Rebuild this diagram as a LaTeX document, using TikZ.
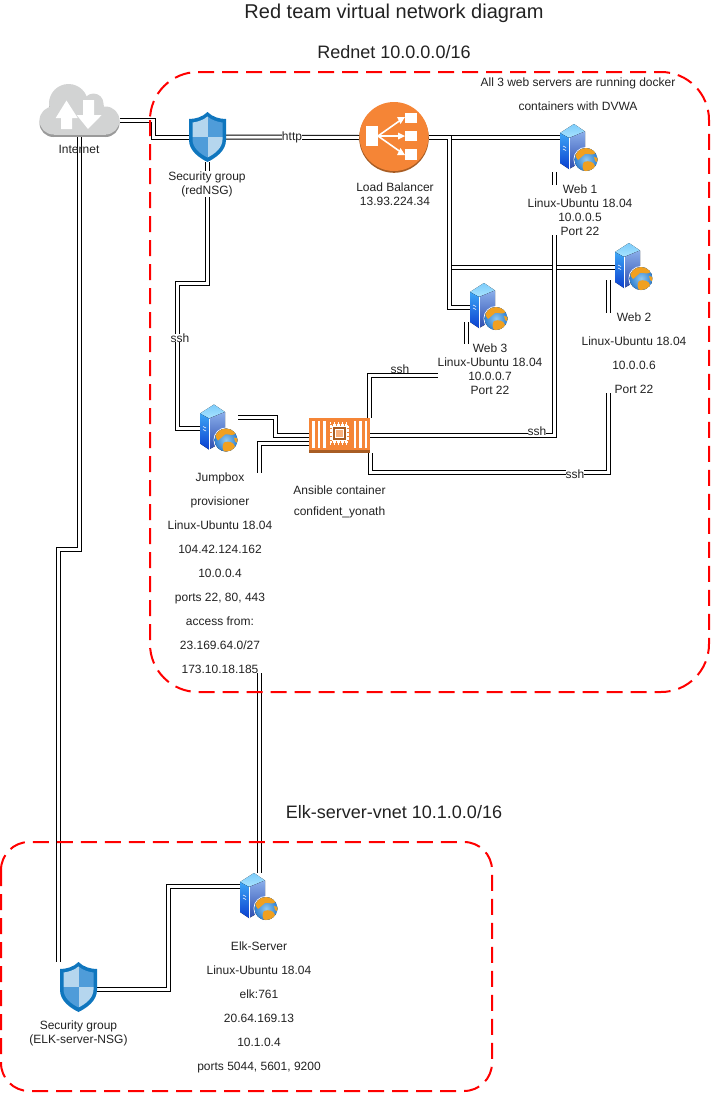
\documentclass[tikz,border=0pt]{standalone}
\usepackage{fontspec}
\setmainfont{Liberation Sans}
\definecolor{lborange}{HTML}{F58536}
\definecolor{lbbrown}{HTML}{A85D24}
\definecolor{cloudgrey}{HTML}{D2D3D3}
\definecolor{cloudshade}{HTML}{9A9A9A}
\definecolor{shdark}{HTML}{0F76BE}
\definecolor{shlight}{HTML}{B5D6EE}
\definecolor{shmid}{HTML}{4F9CD9}
\definecolor{txt}{HTML}{222222}
\definecolor{srvtop}{HTML}{7CCBFA}
\definecolor{srvtopb}{HTML}{A9E4FF}
\definecolor{srvlefta}{HTML}{3DA5F5}
\definecolor{srvleftb}{HTML}{0A3FD0}
\definecolor{srvfronta}{HTML}{8AAEEA}
\definecolor{srvfrontb}{HTML}{2C4DB0}
\definecolor{globea}{HTML}{8FC8F0}
\definecolor{globeb}{HTML}{2F7FD0}
\definecolor{land}{HTML}{F0A020}
\tikzset{
  link/.style={draw=black,line width=1pt,double=white,double distance=3pt},
  zone/.style={draw=red,line width=2pt,dash pattern=on 16pt off 8pt},
  iconbox/.style={inner sep=0pt,outer sep=0pt,minimum width=#1},
  label base/.style={text=txt,align=center,inner sep=0pt,fill=white},
  tight/.style={label base,font=\fontsize{12}{14}\selectfont},
  loose/.style={label base,font=\fontsize{12}{24}\selectfont},
  middling/.style={label base,font=\fontsize{12}{21}\selectfont},
  plain/.style={text=txt,align=center,inner sep=0pt,font=\fontsize{12}{14}\selectfont},
  title/.style={text=txt,align=center,inner sep=0pt,font=\fontsize{#1}{#1}\selectfont}
}
\newcommand{\serverico}[1]{%
\begin{scope}[shift={(#1.center)}]
  \fill[top color=srvtop,bottom color=srvtopb] (-5,-24) -- (6,-16.5) -- (-10,-10) -- (-19,-15) -- cycle;
  \fill[top color=srvlefta,bottom color=srvleftb] (-19,-15) -- (-10,-10) -- (-10,21) -- (-19,15) -- cycle;
  \fill[top color=srvfronta,bottom color=srvfrontb] (-10,-10) -- (6,-16.5) -- (6,12) -- (-10,21) -- cycle;
  \draw[white,line width=.6pt] (-16,-2) -- (-13,-.5) (-16,1) -- (-13,2.5);
  \draw[white,line width=1pt] (-10,-10) -- (-10,21);
  \fill[white] (7,11.5) circle[radius=12.5];
  \begin{scope}
    \clip (7,11.5) circle[radius=11.5];
    \fill[inner color=globea,outer color=globeb] (7,11.5) circle[radius=11.5];
    \fill[land] (-2,1) .. controls (4,-2) and (12,-1) .. (17,5) .. controls (13,8) and (9,5) .. (6,6) .. controls (3,8) and (1,11) .. (-1,12) .. controls (-4,9) and (-5,4) .. (-2,1) -- cycle;
    \fill[land] (5,14) .. controls (10,12) and (15,14) .. (16,18) .. controls (14,23) and (9,25) .. (6,24) .. controls (3,21) and (3,17) .. (5,14) -- cycle;
    \fill[land] (15,9) -- (19,10) -- (19,15) -- (16,13) -- cycle;
  \end{scope}
\end{scope}}
\newcommand{\shieldico}[1]{%
\begin{scope}[shift={(#1.center)}]
  \fill[shdark] (0,-25) .. controls (-5,-20) and (-12,-18) .. (-18.5,-18) -- (-18.5,3) .. controls (-18.5,14) and (-8,21) .. (0,25) .. controls (8,21) and (18.5,14) .. (18.5,3) -- (18.5,-18) .. controls (12,-18) and (5,-20) .. (0,-25) -- cycle;
  \begin{scope}
    \clip (0,-20.5) .. controls (-4,-17) and (-10,-15) .. (-15,-14.5) -- (-15,2.5) .. controls (-15,11) and (-7,17) .. (0,20.5) .. controls (7,17) and (15,11) .. (15,2.5) -- (15,-14.5) .. controls (10,-15) and (4,-17) .. (0,-20.5) -- cycle;
    \fill[shlight] (-16,-21) rectangle (0,0);
    \fill[shmid] (0,-21) rectangle (16,0);
    \fill[shmid] (-16,0) rectangle (0,21);
    \fill[shlight] (0,0) rectangle (16,21);
  \end{scope}
\end{scope}}
\newcommand{\cloudshape}[1]{%
  \fill[#1] (-26,10) circle[radius=14];
  \fill[#1] (26,10) circle[radius=14];
  \fill[#1] (-26,-4) rectangle (26,24);
  \fill[#1] (-11,-7) circle[radius=19.5];
  \fill[#1] (14,-7) circle[radius=10];
  \fill[#1] (4,-8) rectangle (14,10);}
\begin{document}
\begin{tikzpicture}[x=1pt,y=-1pt]
\useasboundingbox (0,0) rectangle (710,1093);
% named icon nodes
\node[iconbox=80pt,minimum height=53pt] (cloud) at (79.5,110.5) {};
\node[iconbox=37pt,minimum height=50pt] (nsg) at (207.5,137) {};
\node[iconbox=69pt,minimum height=71pt] (lb) at (394,137.5) {};
\node[iconbox=38pt,minimum height=48pt] (web1) at (579,148) {};
\node[iconbox=38pt,minimum height=48pt] (web2) at (634,267) {};
\node[iconbox=38pt,minimum height=48pt] (web3) at (489,307) {};
\node[iconbox=38pt,minimum height=48pt] (jump) at (219,428.5) {};
\node[iconbox=61pt,minimum height=35pt] (ansible) at (339.5,435.5) {};
\node[iconbox=38pt,minimum height=48pt] (elk) at (259,897) {};
\node[iconbox=37pt,minimum height=50pt] (nsgtwo) at (78.5,987) {};
% connectors
\draw[link] (cloud.south) -- ++(0,412) -| ([xshift=-20pt]nsgtwo.north);
\draw[link] ([yshift=-10pt]cloud.east) -- ++(34,0) |- (nsg.west);
\draw[link] (nsg.east) -- (lb.west);
\draw[link] (nsg.south) -- ++(0,121) -- ++(-30,0) |- (jump.west);
\draw[link] (lb.east) -- (lb.east -| web1.west);
\draw[link] (lb.east) -- ++(21,0) |- (web2.west);
\draw[link] (lb.east) -- ++(21,0) |- (web3.west);
\draw[link] ([yshift=11.5pt]jump.east) -- ++(37,0) |- (ansible.west);
\draw[link] ([yshift=-7.5pt]ansible.west) -| (elk.north);
\draw[link] ([xshift=-5.5pt]web1.south west) |- (ansible.east);
\draw[link] ([xshift=-7pt,yshift=11pt]web2.south west) -- ++(0,192) -| (ansible.south east);
\draw[link] ([xshift=-4pt,yshift=9pt]web3.south west) -- ++(0,53) -| ([xshift=30pt]ansible.north);
\draw[link] ([yshift=-2.5pt]nsgtwo.east) -- ++(71,0) |- ([yshift=10.5pt]elk.west);
% zones
\draw[zone,rounded corners=48pt] (150,72) rectangle (709,692);
\draw[zone,rounded corners=28pt] (1,842) rectangle (492,1091);
% cloud icon
\begin{scope}[shift={(cloud.center)}]
  \begin{scope}[shift={(0,2.5)}]
    \cloudshape{cloudshade}
  \end{scope}
  \cloudshape{cloudgrey}
  \fill[white] (-13,-10) -- (-1.8,7.5) -- (-7.5,7.5) -- (-7.5,18.5) -- (-18.5,18.5) -- (-18.5,7.5) -- (-23.8,7.5) -- cycle;
  \fill[white] (3.5,-10.5) -- (14.5,-10.5) -- (14.5,4.5) -- (22.2,4.5) -- (8.5,18.5) -- (-2.8,4.5) -- (3.5,4.5) -- cycle;
\end{scope}
% load balancer icon
\begin{scope}[shift={(lb.center)}]
  \fill[lbbrown] (0,0.5) circle[radius=34.8];
  \fill[lborange] (0,-1) circle[radius=34.5];
  \fill[white] (-28,-11.5) rectangle (-16,8.5);
  \fill[white] (11,-24.5) rectangle (23,-14.5);
  \fill[white] (11,-6.5) rectangle (23,3.5);
  \fill[white] (11,11.5) rectangle (23,22.5);
  \draw[white,line width=1.6pt] (-16,-1.5) -- (6,-17) (-16,-1.5) -- (6,-1.5) (-16,-1.5) -- (6,14);
  \fill[white] (11,-20.5) -- (3,-20.5) -- (6.5,-13.5) -- cycle;
  \fill[white] (11,-1.5) -- (4,-5) -- (4,2) -- cycle;
  \fill[white] (11,17.5) -- (6.5,10.5) -- (3,17.5) -- cycle;
\end{scope}
% chip icon
\begin{scope}[shift={(ansible.center)}]
  \fill[lborange] (-30.5,-17.5) rectangle (30.5,14.5);
  \fill[lbbrown] (-30.5,14.5) rectangle (30.5,17.5);
  \foreach \sx in {-27.5,-22,-16.5,14,19.5,25}{\fill[white] (\sx,-15) rectangle (\sx+2.8,12.5);}
  \fill[white] (-9.5,-11.5) rectangle (9.5,7.5);
  \foreach \pp in {-9,-5,-1,3,7}{
    \fill[white] (\pp-.6,-13.5) rectangle (\pp+.6,-11);
    \fill[white] (\pp-.6,7) rectangle (\pp+.6,9.5);
    \fill[lborange] (\pp+1.4,-11.5) rectangle (\pp+2.4,-9.8);
    \fill[lborange] (\pp+1.4,5.8) rectangle (\pp+2.4,7.5);
  }
  \foreach \qq in {-11,-7,-3,1,5}{
    \fill[lborange] (-9.5,\qq-.5) rectangle (-7.8,\qq+.5);
    \fill[lborange] (7.8,\qq-.5) rectangle (9.5,\qq+.5);
  }
  \fill[lbbrown] (-6.5,-8.5) rectangle (6.5,4.5);
  \fill[white] (-4.5,-6.5) rectangle (4.5,2.5);
  \fill[lborange!65!white] (-3.2,-5.2) rectangle (3.2,1.2);
\end{scope}
% server and shield icons
\serverico{web1}
\serverico{web2}
\serverico{web3}
\serverico{jump}
\serverico{elk}
\shieldico{nsg}
\shieldico{nsgtwo}
% texts
\node[title=20] (ttlmain) at (394,13) {Red team virtual network diagram};
\node[title=18] (ttlred) at (394,52) {Rednet 10.0.0.0/16};
\node[title=18] (ttlelk) at (394,812) {Elk-server-vnet 10.1.0.0/16};
\node[plain] (tcloud) at (79,149) {Internet};
\node[tight] (tnsg) at (207,184) {Security group\\(redNSG)};
\node[tight] (thttp) at (292,137) {http};
\node[tight] (tlb) at (395,194) {Load Balancer\\13.93.224.34};
\node[loose,fill=none] (tnote) at (578,94.5) {All 3 web servers are running docker\\containers with DVWA};
\node[tight] (tweb1) at (580,210) {Web 1\\Linux-Ubuntu 18.04\\10.0.0.5\\Port 22};
\node[loose] (tweb2) at (634,353) {Web 2\\Linux-Ubuntu 18.04\\10.0.0.6\\Port 22};
\node[tight] (tweb3) at (490,369) {Web 3\\Linux-Ubuntu 18.04\\10.0.0.7\\Port 22};
\node[tight] (sshjump) at (180,338) {ssh};
\node[tight,fill=none] (sshweb3) at (400,369) {ssh};
\node[tight] (sshweb1) at (537,431) {ssh};
\node[tight] (sshweb2) at (575,474) {ssh};
\node[loose] (tjump) at (220,573) {Jumpbox\\provisioner\\Linux-Ubuntu 18.04\\104.42.124.162\\10.0.0.4\\ports 22, 80, 443\\access from:\\23.169.64.0/27\\173.10.18.185};
\node[middling] (tansible) at (339.5,502) {Ansible container\\confident\_yonath};
\node[loose] (telk) at (259,1007) {Elk-Server\\Linux-Ubuntu 18.04\\elk:761\\20.64.169.13\\10.1.0.4\\ports 5044, 5601, 9200};
\node[tight] (tnsgtwo) at (78.5,1033) {Security group\\(ELK-server-NSG)};
\end{tikzpicture}
\end{document}
